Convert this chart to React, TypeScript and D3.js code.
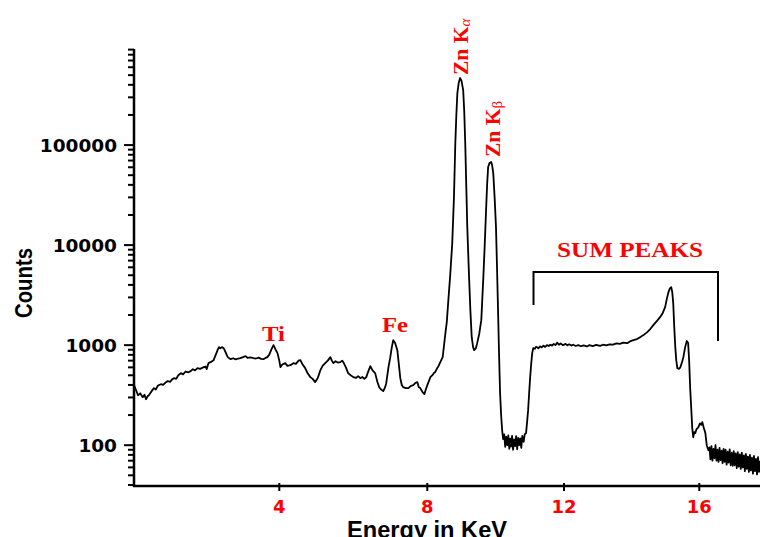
import React from "react";
import * as d3 from "d3";

const energy = [
  0.0, 0.05, 0.11, 0.17, 0.24, 0.29, 0.33, 0.38, 0.41, 0.48, 0.55, 0.6, 0.66, 0.74, 0.8, 0.86, 0.93, 1.0, 1.05, 1.1,
  1.16, 1.22, 1.29, 1.35, 1.42, 1.5, 1.56, 1.62, 1.68, 1.75, 1.82, 1.92, 1.97, 2.0, 2.05, 2.12, 2.19, 2.25, 2.3, 2.34,
  2.38, 2.42, 2.47, 2.52, 2.58, 2.66, 2.73, 2.8, 2.87, 2.93, 3.0, 3.07, 3.13, 3.2, 3.29, 3.36, 3.43, 3.5, 3.56, 3.62,
  3.67, 3.72, 3.78, 3.84, 3.9, 3.95, 4.0, 4.03, 4.08, 4.16, 4.22, 4.3, 4.38, 4.45, 4.52, 4.57, 4.63, 4.7, 4.77, 4.84,
  4.9, 4.97, 5.04, 5.11, 5.17, 5.24, 5.31, 5.38, 5.42, 5.46, 5.52, 5.58, 5.65, 5.7, 5.73, 5.8, 5.86, 5.93, 6.0, 6.07,
  6.13, 6.19, 6.25, 6.3, 6.35, 6.4, 6.46, 6.52, 6.59, 6.65, 6.7, 6.75, 6.81, 6.86, 6.89, 6.95, 7.0, 7.04, 7.08, 7.13,
  7.19, 7.23, 7.27, 7.31, 7.35, 7.42, 7.49, 7.55, 7.62, 7.68, 7.73, 7.77, 7.81, 7.87, 7.92, 7.96, 8.0, 8.05, 8.09, 8.15,
  8.2, 8.23, 8.29, 8.33, 8.38, 8.45, 8.53, 8.57, 8.61, 8.67, 8.73, 8.78, 8.82, 8.85, 8.88, 8.92, 8.96, 9.0, 9.05, 9.08,
  9.11, 9.14, 9.17, 9.22, 9.26, 9.3, 9.34, 9.37, 9.42, 9.46, 9.52, 9.58, 9.64, 9.68, 9.72, 9.75, 9.78, 9.82, 9.87, 9.9,
  9.93, 9.97, 10.01, 10.04, 10.07, 10.1, 10.13, 10.16, 10.19, 10.22, 10.25, 10.28, 10.31, 10.34, 10.37, 10.4, 10.42, 10.45, 10.48, 10.51,
  10.54, 10.57, 10.6, 10.63, 10.66, 10.69, 10.72, 10.75, 10.78, 10.82, 10.85, 10.89, 10.92, 10.95, 10.98, 11.01, 11.04, 11.07, 11.1, 11.15,
  11.18, 11.21, 11.25, 11.3, 11.35, 11.4, 11.45, 11.5, 11.55, 11.6, 11.65, 11.7, 11.75, 11.8, 11.85, 11.9, 11.97, 12.05, 12.1, 12.15,
  12.22, 12.27, 12.35, 12.42, 12.5, 12.58, 12.68, 12.75, 12.85, 12.95, 13.07, 13.15, 13.25, 13.35, 13.45, 13.55, 13.65, 13.75, 13.87, 13.95,
  14.05, 14.16, 14.25, 14.35, 14.46, 14.55, 14.64, 14.75, 14.84, 14.92, 14.99, 15.04, 15.08, 15.13, 15.17, 15.2, 15.23, 15.26, 15.29, 15.32,
  15.35, 15.4, 15.44, 15.49, 15.53, 15.58, 15.63, 15.67, 15.7, 15.73, 15.76, 15.79, 15.82, 15.85, 15.88, 15.92, 15.97, 16.02, 16.06, 16.09,
  16.13, 16.18, 16.22, 16.27, 16.3, 16.33, 16.36, 16.39, 16.42, 16.45, 16.48, 16.51, 16.54, 16.57, 16.6, 16.63, 16.66, 16.69, 16.72, 16.75,
  16.78, 16.81, 16.84, 16.87, 16.9, 16.93, 16.96, 16.99, 17.02, 17.05, 17.08, 17.11, 17.14, 17.17, 17.2, 17.23, 17.26, 17.29, 17.32, 17.35,
  17.38, 17.41, 17.44, 17.47, 17.5, 17.53, 17.56, 17.59, 17.62, 17.65, 17.68, 17.71, 17.74, 17.77, 17.8,
];

const counts = [
  398, 360, 316, 330, 302, 320, 288, 310, 316, 345, 372, 360, 395, 407, 400, 420, 437, 430, 455, 468,
  460, 500, 525, 510, 545, 535, 550, 575, 560, 589, 580, 603, 612, 575, 661, 680, 708, 800, 891, 955,
  930, 955, 933, 850, 759, 724, 740, 720, 735, 741, 760, 776, 745, 755, 741, 735, 750, 730, 724, 745,
  759, 800, 900, 1000, 900, 832, 700, 603, 640, 661, 620, 631, 661, 650, 700, 708, 640, 589, 520, 479,
  460, 427, 470, 562, 620, 661, 700, 759, 700, 661, 690, 670, 676, 700, 676, 600, 525, 500, 479, 470,
  490, 468, 480, 460, 479, 540, 617, 560, 525, 430, 380, 360, 347, 380, 417, 600, 759, 950, 1122, 1050,
  891, 650, 468, 400, 380, 372, 372, 390, 398, 420, 427, 380, 372, 340, 324, 360, 398, 440, 479, 501,
  530, 537, 589, 620, 676, 760, 1318, 1700, 2630, 5000, 10470, 30000, 104700, 200000, 331000, 420000, 467700, 440000, 354800, 220000,
  104700, 40000, 15140, 5000, 2239, 1200, 955, 891, 930, 1047, 1300, 1778, 4786, 10000, 22390, 40000, 60260, 66000, 67610, 62000,
  52480, 30000, 15140, 6000, 2239, 800, 331, 200, 141, 115, 128, 96, 122, 100, 125, 92, 116, 97, 124, 90,
  114, 98, 123, 91, 118, 100, 117, 94, 124, 108, 128, 132, 170, 224, 330, 479, 650, 832, 933, 920,
  960, 955, 930, 970, 950, 990, 960, 1000, 980, 1010, 990, 1030, 1000, 1060, 1010, 1040, 1000, 1030, 995, 1020,
  990, 1010, 980, 1000, 975, 995, 970, 1000, 980, 1005, 985, 1010, 995, 1020, 1010, 1040, 1030, 1060, 1047, 1090,
  1120, 1150, 1200, 1260, 1349, 1450, 1585, 1750, 1905, 2100, 2399, 2900, 3311, 3700, 3802, 3400, 2600, 1500, 955, 700,
  589, 580, 600, 680, 759, 950, 1100, 1050, 700, 372, 240, 150, 120, 135, 132, 145, 151, 165, 160, 170,
  150, 132, 100, 89, 95, 72, 98, 70, 92, 74, 100, 70, 90, 68, 94, 71, 88, 66, 92, 68,
  90, 64, 86, 67, 91, 63, 84, 62, 87, 63, 83, 59, 85, 61, 81, 58, 84, 60, 79, 55,
  82, 58, 77, 54, 80, 56, 75, 52, 78, 55, 73, 51, 76, 54, 70,
];

const xTicks = [4, 8, 12, 16];
const yTicks = [100, 1000, 10000, 100000];
const xTitle = "Energy in KeV";
const yTitle = "Counts";
const sumLabel = "SUM PEAKS";

export default function App() {
  const W = 760;
  const H = 537;
  const x = d3
    .scaleLinear()
    .domain([0, 4, 8, 12, 16, 18])
    .range([134, 279.3, 427.3, 564, 699.3, 766.8]);
  const y = d3.scaleLog().domain([40, 900000]).range([485, 49.6]);

  const pts: [number, number][] = energy.map((e, i) => [e, counts[i]]);
  const line = d3
    .line<[number, number]>()
    .x((d) => x(d[0]))
    .y((d) => y(d[1]));

  const minor: number[] = [];
  for (let k = 1; k <= 5; k++) {
    for (let m = 2; m <= 9; m++) {
      const v = m * Math.pow(10, k);
      if (v >= 40 && v <= 900000) minor.push(v);
    }
  }

  const axisX = 134;
  const axisY = 486;
  const sans = "'DejaVu Sans', Verdana, sans-serif";
  const arial = "'Liberation Sans', Arial, sans-serif";
  const serif = "'Liberation Serif', 'Times New Roman', serif";

  return (
    <svg
      width={W}
      height={H}
      style={{ position: "absolute", left: 0, top: 0, background: "#fff" }}
    >
      <rect x={0} y={0} width={W} height={H} fill="#fff" />
      <path
        d={line(pts) || ""}
        fill="none"
        stroke="#000"
        strokeWidth={1.8}
        strokeLinejoin="round"
      />
      {/* axes */}
      <line x1={axisX} y1={49} x2={axisX} y2={axisY + 1} stroke="#000" strokeWidth={2.5} />
      <line x1={axisX - 1} y1={axisY} x2={W} y2={axisY} stroke="#000" strokeWidth={2.5} />
      {minor.map((v) => (
        <line key={"m" + v} x1={axisX - 6} x2={axisX} y1={y(v)} y2={y(v)} stroke="#000" strokeWidth={2} />
      ))}
      {yTicks.map((v) => (
        <g key={"y" + v}>
          <line x1={axisX - 10} x2={axisX} y1={y(v)} y2={y(v)} stroke="#000" strokeWidth={2} />
          <text
            x={117}
            y={y(v) + 6.5}
            textAnchor="end"
            fontFamily={sans}
            fontWeight="bold"
            fontSize={18.5}
            fill="#000"
          >
            {String(v)}
          </text>
        </g>
      ))}
      {xTicks.map((v) => (
        <g key={"x" + v}>
          <line x1={x(v)} x2={x(v)} y1={axisY - 3} y2={axisY + 5} stroke="#000" strokeWidth={2} />
          <text
            x={x(v)}
            y={513}
            textAnchor="middle"
            fontFamily={sans}
            fontWeight="bold"
            fontSize={18}
            fill="#ff0000"
          >
            {String(v)}
          </text>
        </g>
      ))}
      <text
        x={347}
        y={538}
        fontFamily={arial}
        fontWeight="bold"
        fontSize={24}
        fill="#000"
        textLength={160}
        lengthAdjust="spacingAndGlyphs"
      >
        {xTitle}
      </text>
      <text
        transform="translate(32,318) rotate(-90)"
        fontFamily={arial}
        fontWeight="bold"
        fontSize={24}
        fill="#000"
        textLength={70}
        lengthAdjust="spacingAndGlyphs"
      >
        {yTitle}
      </text>
      {/* annotations */}
      <text x={262} y={341} fontFamily={serif} fontWeight="bold" fontSize={21} fill="#ff0000" textLength={23} lengthAdjust="spacingAndGlyphs">
        Ti
      </text>
      <text x={382} y={332} fontFamily={serif} fontWeight="bold" fontSize={21} fill="#ff0000" textLength={26} lengthAdjust="spacingAndGlyphs">
        Fe
      </text>
      <text transform="translate(467.5,75) rotate(-90)" fontFamily={serif} fontWeight="bold" fontSize={21.5} fill="#ff0000">
        Zn K
        <tspan fontWeight="normal" fontStyle="italic" fontSize={15} dy={2}>
          α
        </tspan>
      </text>
      <text transform="translate(500,157) rotate(-90)" fontFamily={serif} fontWeight="bold" fontSize={21.5} fill="#ff0000">
        Zn K
        <tspan fontWeight="normal" fontSize={15} dy={2}>
          β
        </tspan>
      </text>
      <text x={557} y={257} fontFamily={serif} fontWeight="bold" fontSize={21} fill="#ff0000" textLength={146} lengthAdjust="spacingAndGlyphs">
        {sumLabel}
      </text>
      <path d="M533.5,305 V272 H718 V341" fill="none" stroke="#000" strokeWidth={2} />
    </svg>
  );
}
